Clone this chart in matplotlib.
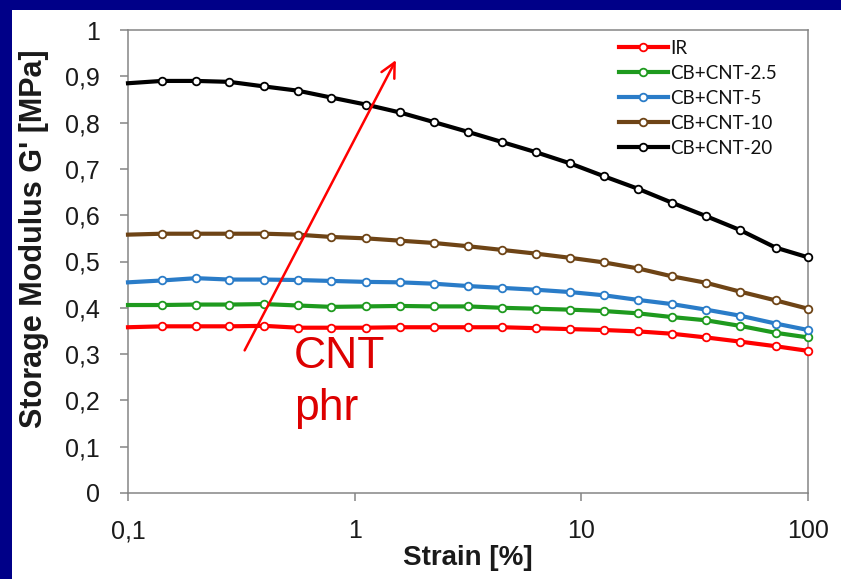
import matplotlib
matplotlib.use("Agg")
import matplotlib.pyplot as plt
from matplotlib.patches import Rectangle
from matplotlib.ticker import FixedLocator, FixedFormatter, NullLocator

# Strain sweep points [%]
strain = [0.1, 0.141, 0.2, 0.28, 0.4, 0.56, 0.79, 1.12, 1.58, 2.24, 3.16,
          4.47, 6.31, 8.91, 12.6, 17.8, 25.1, 35.5, 50.1, 72.0, 100.0]

# Storage modulus G' [MPa] for each compound
g_ir = [0.358, 0.360, 0.360, 0.360, 0.361, 0.357, 0.357, 0.357, 0.358, 0.358, 0.358,
        0.358, 0.356, 0.354, 0.352, 0.349, 0.344, 0.336, 0.327, 0.317, 0.307]
g_cnt_2_5 = [0.406, 0.406, 0.407, 0.407, 0.408, 0.405, 0.402, 0.403, 0.404, 0.403, 0.403,
             0.400, 0.398, 0.396, 0.393, 0.388, 0.380, 0.373, 0.361, 0.346, 0.336]
g_cnt_5 = [0.455, 0.459, 0.464, 0.461, 0.461, 0.460, 0.458, 0.456, 0.455, 0.452, 0.447,
           0.443, 0.439, 0.434, 0.427, 0.417, 0.408, 0.396, 0.383, 0.366, 0.352]
g_cnt_10 = [0.558, 0.560, 0.560, 0.560, 0.560, 0.558, 0.553, 0.550, 0.545, 0.540, 0.533,
            0.525, 0.517, 0.508, 0.498, 0.485, 0.468, 0.454, 0.435, 0.416, 0.398]
g_cnt_20 = [0.885, 0.890, 0.890, 0.888, 0.878, 0.869, 0.854, 0.839, 0.822, 0.801, 0.780,
            0.758, 0.736, 0.712, 0.684, 0.657, 0.627, 0.598, 0.568, 0.530, 0.509]

series_labels = ["IR", "CB+CNT-2.5", "CB+CNT-5", "CB+CNT-10", "CB+CNT-20"]
series_values = [g_ir, g_cnt_2_5, g_cnt_5, g_cnt_10, g_cnt_20]
series_colors = ["#ff0000", "#1e9a1e", "#2a7cc8", "#6e4416", "#000000"]

x_ticks = [0.1, 1, 10, 100]
x_tick_labels = ["0,1", "1", "10", "100"]
y_ticks = [0, 0.1, 0.2, 0.3, 0.4, 0.5, 0.6, 0.7, 0.8, 0.9, 1.0]
y_tick_labels = ["0", "0,1", "0,2", "0,3", "0,4", "0,5", "0,6", "0,7", "0,8", "0,9", "1"]

# arrow showing the direction of increasing CNT content
arrow_tail = (0.327, 0.308)
arrow_head = (1.52, 0.935)

SANS = ["Liberation Sans", "DejaVu Sans"]

W, H = 841, 579
fig = plt.figure(figsize=(W / 100, H / 100), dpi=100)
fig.patch.set_facecolor("#000088")
fig.add_artist(Rectangle((12 / W, 0), 1 - 12 / W, 1 - 10 / H,
                         transform=fig.transFigure, facecolor="white",
                         edgecolor="none", zorder=-10))

ax = fig.add_axes([128 / W, 1 - 493 / H, 680 / W, 463 / H])
ax.set_facecolor("white")

for vals, lab, col in zip(series_values, series_labels, series_colors):
    ax.plot(strain, vals, color=col, lw=3.0, label=lab,
            marker="o", ms=5.5, mfc="white", mec=col, mew=1.3,
            markevery=list(range(1, len(strain))), clip_on=False, zorder=3)

ax.set_xscale("log")
ax.set_xlim(0.1, 100)
ax.set_ylim(0, 1)
ax.xaxis.set_major_locator(FixedLocator(x_ticks))
ax.xaxis.set_major_formatter(FixedFormatter(x_tick_labels))
ax.xaxis.set_minor_locator(NullLocator())
ax.yaxis.set_major_locator(FixedLocator(y_ticks))
ax.yaxis.set_major_formatter(FixedFormatter(y_tick_labels))

for s in ax.spines.values():
    s.set_color("#858585")
    s.set_linewidth(1.1)

ax.tick_params(axis="y", direction="out", length=6, width=1.1, color="#858585",
               pad=14, labelsize=18, labelcolor="#1a1a1a")
ax.tick_params(axis="x", direction="out", length=6, width=1.1, color="#858585",
               pad=13, labelsize=18, labelcolor="#1a1a1a")
for t in ax.get_yticklabels() + ax.get_xticklabels():
    t.set_family(SANS)

ax.set_xlabel("Strain [%]", fontsize=20, fontweight="bold", color="#1a1a1a",
              family=SANS)
ax.xaxis.set_label_coords(0.5, -0.112)
ax.set_ylabel("Storage Modulus G' [MPa]", fontsize=22, fontweight="bold",
              color="#1a1a1a", family=SANS)
ax.yaxis.set_label_coords(-0.116, 0.55)

leg = ax.legend(loc="upper left", bbox_to_anchor=(619 / W, 1 - 40 / H),
                bbox_transform=fig.transFigure, frameon=False, borderpad=0,
                borderaxespad=0, handlelength=2.6, handletextpad=0.15,
                labelspacing=0.42, prop={"family": ["Lato", "DejaVu Sans"], "size": 13.5})
for t in leg.get_texts():
    t.set_color("#111111")

ax.annotate("", xy=arrow_head, xytext=arrow_tail,
            arrowprops=dict(arrowstyle="->", color="#ff0000", lw=1.8,
                            mutation_scale=26, shrinkA=0, shrinkB=0),
            zorder=4)
ax.text(0.54, 0.2695, "CNT", color="#dd0000", fontsize=32, ha="left", va="baseline",
        family=SANS, zorder=4)
ax.text(0.54, 0.157, "phr", color="#dd0000", fontsize=32, ha="left", va="baseline",
        family=SANS, zorder=4)

fig.savefig("out.png", dpi=100, facecolor=fig.get_facecolor())
